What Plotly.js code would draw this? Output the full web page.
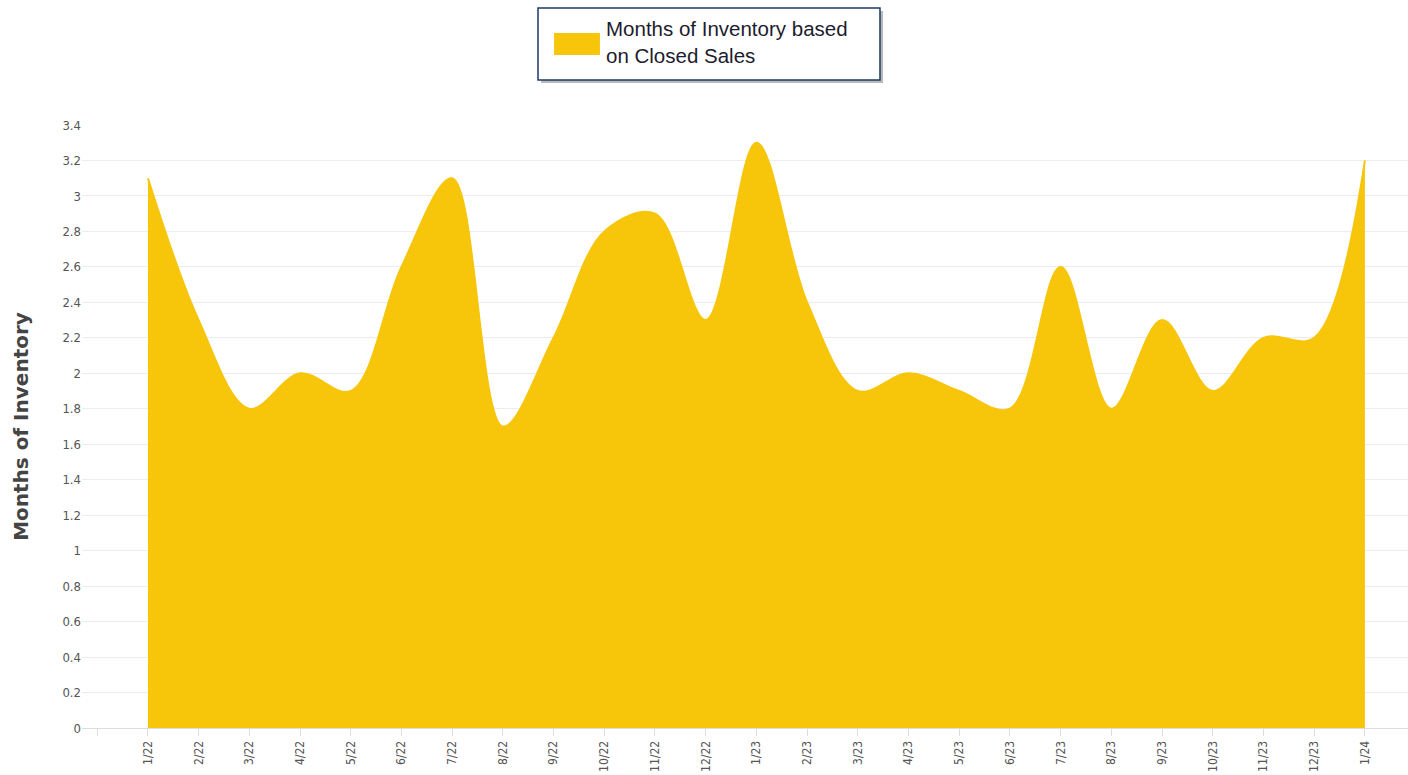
<!DOCTYPE html>
<html>
<head>
<meta charset="utf-8">
<script src="https://cdn.plot.ly/plotly-3.0.1.min.js"></script>
<style>
html,body{margin:0;padding:0;background:#fff;overflow:hidden;}
#chart{width:1408px;height:775px;}
</style>
</head>
<body>
<div id="chart"></div>
<script>
const months = ["1/22","2/22","3/22","4/22","5/22","6/22","7/22","8/22","9/22","10/22","11/22","12/22",
                "1/23","2/23","3/23","4/23","5/23","6/23","7/23","8/23","9/23","10/23","11/23","12/23","1/24"];
const inventory = [3.1,2.3,1.8,2.0,1.9,2.6,3.1,1.7,2.2,2.8,2.9,2.3,
                   3.3,2.4,1.9,2.0,1.9,1.8,2.6,1.8,2.3,1.9,2.2,2.2,3.2];
const seriesName = "Months of Inventory based<br>on Closed Sales";
const yTitle = "Months of Inventory";

const xIdx = months.map((m, i) => i);
const tickVals = [-1].concat(xIdx);
const tickText = [""].concat(months);
const gold = "#F7C50A";

const trace = {
  x: xIdx,
  y: inventory,
  type: "scatter",
  mode: "lines",
  line: {shape: "spline", smoothing: 1, color: gold, width: 2},
  fill: "tozeroy",
  fillcolor: gold,
  showlegend: false,
  hoverinfo: "skip"
};

const yTickFont = {family: "DejaVu Sans Condensed, Liberation Sans, sans-serif", size: 13, color: "#555"};
const xTickFont = {family: "DejaVu Sans Condensed, Liberation Sans, sans-serif", size: 12, color: "#555"};

const layout = {
  width: 1408,
  height: 775,
  margin: {l: 82, r: 0, t: 125, b: 47},
  paper_bgcolor: "#fff",
  plot_bgcolor: "#fff",
  showlegend: false,
  xaxis: {
    range: [-1.3, 24.85],
    tickvals: tickVals,
    ticktext: tickText,
    tickangle: -90,
    ticks: "outside",
    ticklen: 7,
    tickcolor: "#ddd",
    tickwidth: 1,
    showgrid: false,
    zeroline: false,
    showline: true,
    linecolor: "#ddd",
    linewidth: 1,
    tickfont: xTickFont,
    automargin: false
  },
  yaxis: {
    range: [0, 3.4],
    dtick: 0.2,
    tick0: 0,
    showgrid: true,
    gridcolor: "#ececec",
    gridwidth: 1,
    zeroline: false,
    showline: false,
    ticks: "",
    tickfont: yTickFont,
    automargin: false,
    title: {
      text: yTitle,
      font: {family: "DejaVu Sans, sans-serif", size: 20, color: "#444", weight: "bold"},
      standoff: 28
    }
  },
  shapes: [
    {type: "rect", xref: "paper", yref: "paper", x0: 0.3462, x1: 0.6041, y0: 1.0696, y1: 1.1890,
     fillcolor: "#8a8a8a", line: {width: 0}, layer: "above", opacity: 0.6},
    {type: "rect", xref: "paper", yref: "paper", x0: 0.3439, x1: 0.6018, y0: 1.0746, y1: 1.1940,
     fillcolor: "#fff", line: {color: "#1F3864", width: 1.5}, layer: "above"},
    {type: "rect", xref: "paper", yref: "paper", x0: 0.3560, x1: 0.3906, y0: 1.1161, y1: 1.1526,
     fillcolor: gold, line: {width: 0}, layer: "above"}
  ],
  annotations: [
    {xref: "paper", yref: "paper", x: 0.3940, y: 1.137, xanchor: "left", yanchor: "middle",
     align: "left", showarrow: false, text: seriesName,
     font: {family: "Liberation Sans, Arial, sans-serif", size: 20.5, color: "#1c1c2e"}}
  ]
};

Plotly.newPlot("chart", [trace], layout, {displayModeBar: false, staticPlot: true});
</script>
</body>
</html>
